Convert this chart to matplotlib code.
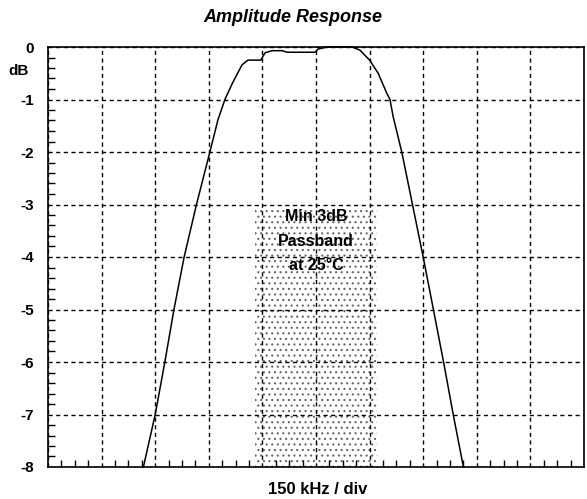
import matplotlib
matplotlib.use("Agg")
import matplotlib.pyplot as plt
from matplotlib.patches import Rectangle
from matplotlib.ticker import MultipleLocator

# Data (x in divisions of 150 kHz, y in dB)
freq_div = [1.78, 2.0, 2.18, 2.35, 2.54, 2.77, 3.02, 3.17, 3.30, 3.45, 3.62, 3.73,
            3.97, 4.05, 4.18, 4.37, 4.46, 4.98, 5.04, 5.2, 5.67, 5.82, 6.0, 6.16,
            6.32, 6.38, 6.44, 6.60, 6.80, 7.0, 7.19, 7.38, 7.56, 7.75]
amp_db = [-8, -7, -6, -5, -4, -3, -2, -1.39, -1.0, -0.67, -0.34, -0.25,
          -0.25, -0.11, -0.07, -0.07, -0.10, -0.10, -0.04, 0, 0, -0.06, -0.25, -0.5,
          -0.88, -1.0, -1.33, -2, -3, -4, -5, -6, -7, -8]
passband_x = [3.87, 6.13]
passband_top = -3.07
y_ticks = [0, -1, -2, -3, -4, -5, -6, -7, -8]
y_ticklabels = ["0", "-1", "-2", "-3", "-4", "-5", "-6", "-7", "-8"]
title = "Amplitude Response"
xlabel = "150 kHz / div"
ylabel_unit = "dB"
band_text = "Min 3dB\nPassband\nat 25°C"

plt.rcParams['font.family'] = ['Liberation Sans', 'DejaVu Sans']
plt.rcParams['hatch.linewidth'] = 0.8

fig = plt.figure(figsize=(5.87, 4.99), dpi=100)
ax = fig.add_axes([48/587, 32/499, 536/587, 420/499])

ax.set_xlim(0, 10)
ax.set_ylim(-8, 0)

# passband shading
ax.add_patch(Rectangle((passband_x[0], -8), passband_x[1]-passband_x[0], passband_top + 8,
                       facecolor='none', edgecolor='#666666', hatch='...', linewidth=0, zorder=1))

ax.grid(True, which='major', color='black', linestyle=(0, (3, 2.5)), linewidth=1.0, zorder=2)
ax.plot(freq_div, amp_db, color='black', linewidth=1.1, zorder=3, clip_on=False)

ax.text((passband_x[0]+passband_x[1])/2, -3.7, band_text, ha='center', va='center',
        fontsize=11.5, fontweight='bold', linespacing=1.8, zorder=4)

ax.xaxis.set_major_locator(MultipleLocator(1))
ax.xaxis.set_minor_locator(MultipleLocator(0.25))
ax.set_xticklabels([])
ax.set_yticks(y_ticks)
ax.set_yticklabels(y_ticklabels, fontsize=11, fontweight='bold')
ax.yaxis.set_minor_locator(MultipleLocator(0.2))
ax.tick_params(which='both', direction='in', length=5, width=1, top=False, right=False, pad=10)
ax.tick_params(axis='x', which='major', length=0)
ax.tick_params(axis='y', which='major', length=0)

for s in ax.spines.values():
    s.set_linewidth(1.2)

ax.text(-0.035, -0.45, ylabel_unit, transform=ax.get_yaxis_transform(), ha='right', va='center',
        fontsize=11, fontweight='bold')

fig.text(293/587, 1 - 18/499, title, ha='center', va='center', fontsize=13,
         fontweight='bold', fontstyle='italic')
fig.text(318/587, 1 - 490/499, xlabel, ha='center', va='center', fontsize=12,
         fontweight='bold')

fig.savefig("out.png", dpi=100)
